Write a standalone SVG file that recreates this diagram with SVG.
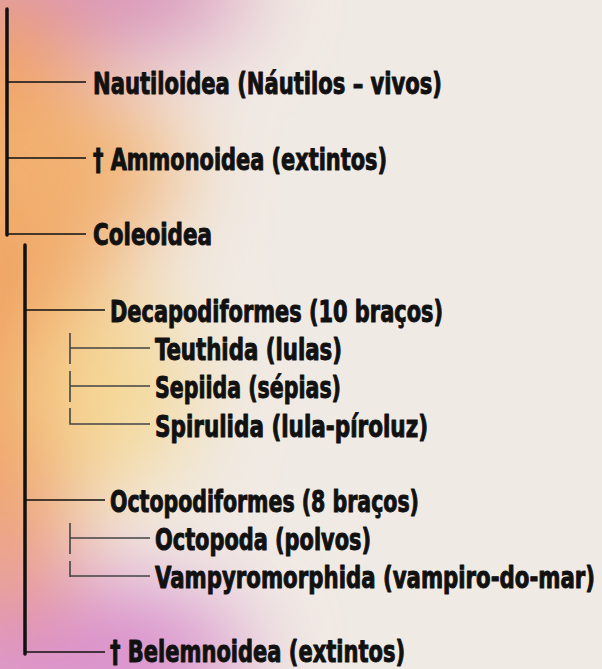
<svg xmlns="http://www.w3.org/2000/svg" width="602" height="669" viewBox="0 0 602 669">
<defs>
<filter id="blur" x="-100%" y="-100%" width="300%" height="300%"><feGaussianBlur stdDeviation="45"/></filter>
<style>
text{font-family:"Liberation Sans Narrow","DejaVu Sans Condensed","Liberation Sans",sans-serif;font-weight:bold;font-size:31px;fill:#111;stroke:#111;stroke-width:1;stroke-linejoin:round;font-stretch:condensed}
.main{stroke:#111;stroke-width:3.5;fill:none;stroke-linecap:round}
.br{stroke:#111;stroke-width:1.7;fill:none}
.sub{stroke:#444;stroke-width:1.6;fill:none}
</style>
</defs>
<rect width="602" height="669" fill="#f0eae4"/>
<g filter="url(#blur)">
<ellipse cx="60" cy="-10" rx="190" ry="70" fill="#d892b8"/>
<ellipse cx="0" cy="280" rx="110" ry="300" fill="#f0a262"/>
<ellipse cx="60" cy="170" rx="120" ry="80" fill="#f2b070"/>
<ellipse cx="110" cy="390" rx="80" ry="100" fill="#f5d896"/>
<ellipse cx="70" cy="660" rx="180" ry="80" fill="#d98fcc"/>
<ellipse cx="0" cy="560" rx="70" ry="70" fill="#ec9f80"/>
</g>
<g id="connectors">
<path class="main" d="M7 9V235"/>
<path class="br" d="M7 82H86M7 158H86M7 234H86"/>
<path class="main" d="M25 245V654"/>
<path class="br" d="M25 310H105M25 500H105M25 652H105"/>
<path class="sub" d="M70 333V364M70 371V402M70 408V424H150M70 348H150M70 386H150"/>
<path class="sub" d="M70 523V554M70 561V577M70 576H150M70 538H150"/>
</g>
<g id="nautiloidea"><text x="93" y="94" textLength="349" lengthAdjust="spacingAndGlyphs">Nautiloidea (Náutilos – vivos)</text></g>
<g id="ammonoidea"><text x="93" y="170" textLength="294" lengthAdjust="spacingAndGlyphs">† Ammonoidea (extintos)</text></g>
<g id="coleoidea"><text x="93" y="245" textLength="119" lengthAdjust="spacingAndGlyphs">Coleoidea</text></g>
<g id="decapodiformes"><text x="110" y="322" textLength="333" lengthAdjust="spacingAndGlyphs">Decapodiformes (10 braços)</text></g>
<g id="teuthida"><text x="155" y="360" textLength="187" lengthAdjust="spacingAndGlyphs">Teuthida (lulas)</text></g>
<g id="sepiida"><text x="155" y="398" textLength="186" lengthAdjust="spacingAndGlyphs">Sepiida (sépias)</text></g>
<g id="spirulida"><text x="155" y="437" textLength="273" lengthAdjust="spacingAndGlyphs">Spirulida (lula-píroluz)</text></g>
<g id="octopodiformes"><text x="110" y="512" textLength="309" lengthAdjust="spacingAndGlyphs">Octopodiformes (8 braços)</text></g>
<g id="octopoda"><text x="155" y="550" textLength="216" lengthAdjust="spacingAndGlyphs">Octopoda (polvos)</text></g>
<g id="vampyromorphida"><text x="155" y="588" textLength="440" lengthAdjust="spacingAndGlyphs">Vampyromorphida (vampiro-do-mar)</text></g>
<g id="belemnoidea"><text x="110" y="662" textLength="295" lengthAdjust="spacingAndGlyphs">† Belemnoidea (extintos)</text></g>
</svg>
